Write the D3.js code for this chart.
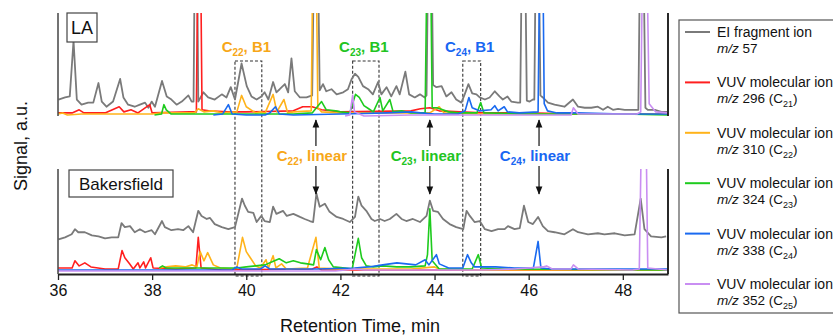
<!DOCTYPE html>
<html>
<head>
<meta charset="utf-8">
<script src="https://cdn.jsdelivr.net/npm/d3@7/dist/d3.min.js"></script>
<style>
  body { margin: 0; background: #fff; }
  svg { display: block; font-family: "Liberation Sans", Arial, Helvetica, sans-serif; }
</style>
</head>
<body>
<svg id="chart" width="833" height="335"></svg>
<script>
// ---- data (retention time in min, signal in a.u.) ----
const laGray = [[36.01,16],[36.15,18],[36.25,19],[36.33,73],[36.40,16],[36.50,11],[36.64,13],[36.75,13],[36.86,32],[36.93,14],[37.03,9],[37.17,14],[37.32,36],[37.39,18],[37.49,11],[37.63,9],[37.74,11],[37.85,13],[37.92,8],[37.99,14],[38.06,9],[38.21,34],[38.31,19],[38.41,16],[38.52,11],[38.63,14],[38.77,20],[38.84,14],[38.88,14],[38.93,300],[38.98,14],[39.09,23],[39.19,18],[39.33,16],[39.48,21],[39.58,18],[39.67,28],[39.76,16],[39.90,51],[40.01,29],[40.11,19],[40.22,16],[40.32,19],[40.39,23],[40.47,16],[40.57,33],[40.64,23],[40.71,26],[40.82,31],[40.89,23],[40.96,56],[41.03,24],[41.14,18],[41.28,18],[41.40,20],[41.48,300],[41.56,25],[41.63,31],[41.70,24],[41.81,26],[41.92,21],[42.06,23],[42.16,26],[42.24,36],[42.31,41],[42.38,38],[42.48,29],[42.59,26],[42.69,21],[42.80,33],[42.87,21],[42.98,28],[43.08,19],[43.19,29],[43.26,21],[43.38,43],[43.46,21],[43.58,18],[43.69,21],[43.79,18],[43.83,20],[43.90,300],[43.97,30],[44.04,28],[44.15,29],[44.25,19],[44.36,23],[44.46,16],[44.57,13],[44.64,21],[44.72,31],[44.80,22],[44.89,21],[44.96,18],[45.07,16],[45.17,18],[45.28,24],[45.38,19],[45.45,16],[45.55,19],[45.63,14],[45.77,13],[45.82,13],[45.89,300],[45.96,15],[46.02,14],[46.09,16],[46.12,16],[46.18,300],[46.25,20],[46.30,18],[46.41,13],[46.55,11],[46.76,9],[46.94,16],[47.05,9],[47.19,8],[47.33,8],[47.47,9],[47.58,6],[47.68,9],[47.79,6],[47.90,7],[48.04,6],[48.18,6],[48.33,6],[48.40,300],[48.48,8],[48.53,6],[48.68,6],[48.82,4],[48.94,4]];
const laC21 = [[36.0,3],[36.3,3],[36.45,6],[36.55,3],[37.0,3],[37.3,9],[37.4,4],[37.55,6],[37.7,3],[37.95,11],[38.0,3],[38.8,4],[38.94,4],[39.0,300],[39.06,6],[39.2,5],[39.6,4],[40.0,4],[41.0,5],[41.2,9],[41.4,9],[41.6,6],[42.0,4],[43.5,5],[43.7,7],[43.9,8],[44.1,5],[45.0,3],[46.0,3],[47.0,2],[48.95,2]];
const laC22 = [[36.0,2],[36.1,3],[36.2,1],[36.5,2],[38.0,2],[38.2,3],[38.9,3],[38.98,7],[39.1,4],[39.3,5],[39.5,3],[39.8,4],[39.9,20],[40.0,9],[40.1,6],[40.2,3],[40.3,4],[40.4,3],[40.57,21],[40.65,4],[40.8,16],[40.88,3],[41.0,4],[41.38,5],[41.45,300],[41.52,8],[41.6,4],[42.0,3],[43.0,3],[43.9,3],[44.1,9],[44.2,3],[45.0,2],[48.95,2]];
const laC23 = [[38.05,1],[38.2,2],[38.25,11],[38.3,6],[38.4,2],[39.0,2],[40.0,2],[41.0,2],[41.4,3],[41.6,14],[41.7,6],[41.9,5],[42.0,4],[42.2,3],[42.32,21],[42.4,18],[42.5,10],[42.6,7],[42.7,4],[42.84,18],[42.9,5],[43.05,16],[43.12,4],[43.3,5],[43.5,3],[43.8,3],[43.88,300],[43.95,8],[44.05,8],[44.3,4],[44.5,3],[44.9,3],[44.98,13],[45.05,3],[46.0,2],[48.0,2],[48.95,1]];
const laC24 = [[39.3,1],[39.5,2],[39.62,11],[39.7,2],[40.0,1],[40.4,1],[40.5,3],[40.62,9],[40.7,2],[41.0,1],[42.0,2],[43.0,3],[43.5,4],[43.7,3],[44.0,2],[44.5,2],[44.65,5],[44.73,18],[44.8,8],[44.95,5],[45.2,6],[45.28,10],[45.35,5],[45.48,9],[45.55,4],[45.8,3],[46.2,4],[46.27,300],[46.33,12],[46.4,5],[46.6,3],[47.0,3],[48.0,2],[48.95,2]];
const laC25 = [[42.1,0],[42.2,1],[42.26,20],[42.3,4],[42.5,0],[43.5,1],[44.5,1],[46.9,1],[46.95,8],[47.05,2],[48.3,2],[48.38,4],[48.46,300],[48.56,12],[48.7,4],[48.95,3]];

const bkGray = [[36.01,31],[36.15,33],[36.29,36],[36.36,41],[36.43,38],[36.57,38],[36.72,35],[36.86,34],[37.00,32],[37.14,33],[37.28,33],[37.35,47],[37.42,43],[37.53,44],[37.63,38],[37.74,41],[37.85,38],[37.99,40],[38.06,36],[38.21,49],[38.27,43],[38.41,40],[38.55,41],[38.66,40],[38.77,44],[38.87,38],[38.98,59],[39.05,54],[39.16,51],[39.23,52],[39.33,46],[39.48,43],[39.62,41],[39.76,43],[39.91,71],[39.97,64],[40.04,58],[40.15,57],[40.22,48],[40.32,54],[40.39,49],[40.50,48],[40.57,63],[40.64,56],[40.78,59],[40.86,54],[41.00,56],[41.14,53],[41.24,51],[41.35,49],[41.42,48],[41.49,76],[41.56,63],[41.67,66],[41.77,58],[41.92,53],[42.06,51],[42.20,48],[42.31,53],[42.38,73],[42.45,64],[42.55,59],[42.66,51],[42.73,49],[42.84,51],[42.94,49],[43.05,51],[43.19,56],[43.30,51],[43.40,49],[43.54,51],[43.69,48],[43.83,54],[43.90,69],[43.97,59],[44.07,58],[44.18,51],[44.32,46],[44.46,43],[44.61,41],[44.68,59],[44.75,54],[44.85,48],[44.96,49],[45.07,41],[45.21,39],[45.35,41],[45.49,41],[45.56,44],[45.70,41],[45.81,42],[45.90,64],[45.99,48],[46.09,46],[46.20,53],[46.30,44],[46.41,39],[46.55,38],[46.76,36],[46.94,41],[47.05,38],[47.26,36],[47.47,37],[47.61,36],[47.83,37],[48.04,35],[48.25,36],[48.38,71],[48.46,41],[48.60,34],[48.82,33],[48.92,34]];
const bkC21 = [[36.0,3],[36.3,3],[36.36,10],[36.45,5],[36.57,8],[36.7,4],[37.0,2],[37.28,2],[37.36,20],[37.42,13],[37.52,7],[37.6,2],[37.7,8],[37.74,3],[37.82,9],[37.86,3],[37.97,13],[38.02,3],[38.5,2],[38.93,3],[38.98,33],[39.04,3],[39.5,1],[41.4,2],[41.5,4],[41.6,1],[48.95,1]];
const bkC22 = [[38.15,3],[38.3,4],[38.5,5],[38.7,4],[38.85,6],[38.95,4],[39.02,19],[39.1,10],[39.18,18],[39.3,6],[39.45,3],[39.7,2],[39.8,3],[39.92,33],[40.0,19],[40.1,12],[40.2,5],[40.3,3],[40.42,11],[40.47,3],[40.57,15],[40.63,3],[40.75,7],[40.85,2],[41.3,3],[41.48,33],[41.55,3],[42.0,2],[43.5,2],[44.0,4],[44.1,2],[45.0,1],[48.95,1]];
const bkC23 = [[38.15,3],[38.22,5],[38.3,3],[39.0,3],[39.8,3],[40.0,4],[40.2,5],[40.4,6],[40.55,9],[40.7,12],[40.85,8],[41.0,10],[41.15,8],[41.3,7],[41.43,6],[41.49,21],[41.58,11],[41.67,23],[41.75,11],[41.85,4],[42.1,3],[42.25,2],[42.38,32],[42.45,13],[42.55,5],[42.7,4],[42.9,5],[43.2,4],[43.5,4],[43.8,5],[43.85,16],[43.90,61],[43.95,10],[44.1,2],[44.8,2],[44.93,16],[45.0,3],[45.5,2],[48.95,1]];
const bkC24 = [[36.0,1],[39.7,1],[39.8,4],[39.9,2],[40.3,2],[40.4,5],[40.5,2],[41.5,2],[42.3,3],[42.6,4],[42.9,6],[43.2,8],[43.4,7],[43.6,6],[43.8,11],[43.88,6],[44.04,16],[44.1,7],[44.3,3],[44.6,3],[44.7,16],[44.78,8],[44.85,4],[45.0,4],[45.3,4],[45.7,3],[46.1,3],[46.2,29],[46.26,3],[46.5,2],[48.95,2]];
const bkC25 = [[36.0,0],[41.9,0],[42.3,2],[42.5,1],[44.0,1],[45.0,1],[45.7,2],[46.3,4],[46.38,5],[46.5,2],[46.9,2],[46.95,6],[47.05,2],[48.2,1],[48.35,2],[48.45,300],[48.53,3],[48.95,1]];

const seriesColors = ["#7a7a7a", "#ff1f1f", "#ffb31a", "#1ecb1e", "#1a6af0", "#c98ef2"];
const legendTitles = ["EI fragment ion", "VUV molecular ion", "VUV molecular ion", "VUV molecular ion", "VUV molecular ion", "VUV molecular ion"];
const legendMz = ["57", "296", "310", "324", "338", "352"];
const legendCarbon = [null, "21", "22", "23", "24", "25"];
const xTicks = [36, 38, 40, 42, 44, 46, 48];

// branched (B1) windows and linear peaks for C22, C23, C24
const annCarbon = ["22", "23", "24"];
const annColors = ["#f7a718", "#22c422", "#1866f2"];
const b1Start = [39.76, 42.26, 44.60];
const b1End = [40.33, 42.82, 44.98];
const linearTime = [41.48, 43.90, 46.22];

// ---- layout ----
const svg = d3.select("#chart");
const x = d3.scaleLinear().domain([36, 48.96]).range([58, 668]);
const yTop = d3.scaleLinear().domain([0, 100]).range([116, 13]);
const yBot = d3.scaleLinear().domain([0, 100]).range([271, 169]);

const defs = svg.append("defs");
defs.append("clipPath").attr("id", "clipTop").append("rect")
  .attr("x", 58).attr("y", 13).attr("width", 610).attr("height", 110);
defs.append("clipPath").attr("id", "clipBot").append("rect")
  .attr("x", 58).attr("y", 169).attr("width", 610).attr("height", 105);
defs.append("marker").attr("id", "arrow").attr("viewBox", "0 0 10 10")
  .attr("refX", 9).attr("refY", 5).attr("markerWidth", 7).attr("markerHeight", 8)
  .attr("orient", "auto").append("path").attr("d", "M0,1 L10,5 L0,9 z").attr("fill", "#111");

function drawPanel(seriesList, y, clipId) {
  const g = svg.append("g").attr("clip-path", `url(#${clipId})`);
  const line = d3.line().x(d => x(d[0])).y(d => y(d[1]));
  seriesList.forEach((s, i) => {
    g.append("path").datum(s)
      .attr("d", line)
      .attr("fill", "none")
      .attr("stroke", seriesColors[i])
      .attr("stroke-width", i === 0 ? 1.8 : 1.6)
      .attr("stroke-linejoin", "round");
  });
}

// dashed B1 boxes (behind traces)
const boxes = svg.append("g");
b1Start.forEach((s, i) => {
  boxes.append("rect")
    .attr("x", x(s)).attr("y", 61)
    .attr("width", x(b1End[i]) - x(s)).attr("height", 215)
    .attr("fill", "none").attr("stroke", "#333").attr("stroke-width", 1.1)
    .attr("stroke-dasharray", "3,2");
});

drawPanel([laGray, laC21, laC22, laC23, laC24, laC25], yTop, "clipTop");
drawPanel([bkGray, bkC21, bkC22, bkC23, bkC24, bkC25], yBot, "clipBot");

// panel frames
[[13, 116], [169, 274]].forEach(([t, b]) => {
  svg.append("line").attr("x1", 58).attr("x2", 58).attr("y1", t).attr("y2", b)
    .attr("stroke", "#444").attr("stroke-width", 1.5);
  svg.append("line").attr("x1", 668).attr("x2", 668).attr("y1", t).attr("y2", b)
    .attr("stroke", "#111").attr("stroke-width", 1.8);
});

// x axis
const ax = svg.append("g").attr("transform", "translate(0,274)")
  .call(d3.axisBottom(x).tickValues(xTicks).tickSize(6).tickSizeOuter(0).tickPadding(5));
ax.select(".domain").attr("stroke", "#222").attr("stroke-width", 2);
ax.selectAll(".tick line").attr("stroke", "#222").attr("stroke-width", 1.3);
ax.selectAll(".tick text").attr("font-size", 16).attr("fill", "#111")
  .attr("font-family", "Liberation Sans, Arial, sans-serif");

svg.append("text").attr("x", 360).attr("y", 332).attr("text-anchor", "middle")
  .attr("font-size", 18).attr("fill", "#111").text("Retention Time, min");
svg.append("text").attr("transform", "translate(27,146) rotate(-90)")
  .attr("text-anchor", "middle").attr("font-size", 18).attr("fill", "#111").text("Signal, a.u.");

// panel names
function nameBox(label, bx, by, w, h, fs) {
  svg.append("rect").attr("x", bx).attr("y", by).attr("width", w).attr("height", h)
    .attr("fill", "#fff").attr("stroke", "#444").attr("stroke-width", 1.2);
  svg.append("text").attr("x", bx + w / 2).attr("y", by + h / 2 + 6)
    .attr("text-anchor", "middle").attr("font-size", fs).attr("fill", "#111").text(label);
}
nameBox("LA", 67, 13, 30, 29, 18);
nameBox("Bakersfield", 69, 170, 104, 27, 17);

// annotations
function carbonLabel(cx, cy, c, suffix, color) {
  const t = svg.append("text").attr("x", cx).attr("y", cy).attr("text-anchor", "middle")
    .attr("font-size", 15).attr("font-weight", "bold").attr("fill", color);
  t.append("tspan").text("C");
  t.append("tspan").attr("font-size", 10).attr("dy", 4).text(c);
  t.append("tspan").attr("dy", -4).text(suffix);
}
annCarbon.forEach((c, i) => {
  carbonLabel((x(b1Start[i]) + x(b1End[i])) / 2 - 2, 52, c, ", B1", annColors[i]);
  carbonLabel(x(linearTime[i]) - 4, 161, c, ", linear", annColors[i]);
  const ax0 = x(linearTime[i]);
  svg.append("line").attr("x1", ax0).attr("x2", ax0).attr("y1", 146).attr("y2", 120)
    .attr("stroke", "#111").attr("stroke-width", 1.2).attr("marker-end", "url(#arrow)");
  svg.append("line").attr("x1", ax0).attr("x2", ax0).attr("y1", 166).attr("y2", 194)
    .attr("stroke", "#111").attr("stroke-width", 1.2).attr("marker-end", "url(#arrow)");
});

// legend
svg.append("rect").attr("x", 679).attr("y", 20).attr("width", 170).attr("height", 293)
  .attr("fill", "#fff").attr("stroke", "#555").attr("stroke-width", 1.2);
legendTitles.forEach((name, i) => {
  const ly = 32 + i * 50.4;
  svg.append("line").attr("x1", 685).attr("x2", 710).attr("y1", ly).attr("y2", ly)
    .attr("stroke", seriesColors[i]).attr("stroke-width", 2);
  svg.append("text").attr("x", 717).attr("y", ly + 5).attr("font-size", 14)
    .attr("fill", "#111").text(name);
  const t = svg.append("text").attr("x", 717).attr("y", ly + 21).attr("font-size", 13.5).attr("fill", "#111");
  t.append("tspan").attr("font-style", "italic").text("m/z");
  t.append("tspan").text(" " + legendMz[i]);
  if (legendCarbon[i]) {
    t.append("tspan").text(" (C");
    t.append("tspan").attr("font-size", 9).attr("dy", 4).text(legendCarbon[i]);
    t.append("tspan").attr("dy", -4).text(")");
  }
});
</script>
</body>
</html>
